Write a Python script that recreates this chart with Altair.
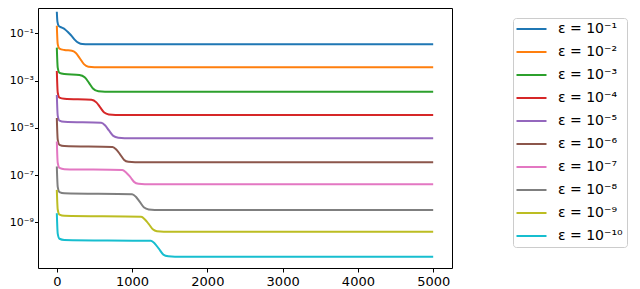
import altair as alt
import pandas as pd

# Legend labels and colours (matplotlib tab10)
labels = ["ε = 10⁻¹", "ε = 10⁻²", "ε = 10⁻³", "ε = 10⁻⁴", "ε = 10⁻⁵",
          "ε = 10⁻⁶", "ε = 10⁻⁷", "ε = 10⁻⁸", "ε = 10⁻⁹", "ε = 10⁻¹⁰"]
colors = ["#1f77b4", "#ff7f0e", "#2ca02c", "#d62728", "#9467bd",
          "#8c564b", "#e377c2", "#7f7f7f", "#bcbd22", "#17becf"]

# Axis ticks
x_ticks = [0, 1000, 2000, 3000, 4000, 5000]
y_ticks = [1e-9, 1e-7, 1e-5, 1e-3, 1e-1]
y_tick_labels = ["10⁻⁹", "10⁻⁷", "10⁻⁵", "10⁻³", "10⁻¹"]

# Series: iteration and log10 of value
eps1_x = [0, 8, 25, 60, 110, 160, 199, 240, 290, 340, 420, 5000]
eps1_log10 = [-0.08, -0.50, -0.68, -0.74, -0.83, -0.98, -1.11, -1.27, -1.40, -1.45, -1.46, -1.46]

eps2_x = [0, 12, 35, 100, 200, 250, 305, 360, 419, 500, 5000]
eps2_log10 = [-0.67, -1.45, -1.64, -1.70, -1.73, -1.82, -2.05, -2.30, -2.41, -2.43, -2.43]

eps3_x = [0, 12, 35, 100, 300, 370, 425, 480, 552, 640, 5000]
eps3_log10 = [-1.60, -2.45, -2.67, -2.72, -2.76, -2.86, -3.08, -3.33, -3.45, -3.47, -3.47]

eps4_x = [0, 12, 35, 100, 460, 525, 574, 630, 690, 780, 5000]
eps4_log10 = [-2.59, -3.50, -3.72, -3.77, -3.81, -3.92, -4.12, -4.35, -4.43, -4.45, -4.45]

eps5_x = [0, 12, 35, 100, 590, 640, 690, 750, 817, 900, 5000]
eps5_log10 = [-3.61, -4.48, -4.69, -4.74, -4.78, -4.89, -5.10, -5.34, -5.42, -5.44, -5.44]

eps6_x = [0, 12, 35, 100, 740, 790, 840, 895, 950, 1040, 5000]
eps6_log10 = [-4.58, -5.50, -5.72, -5.77, -5.81, -5.92, -6.12, -6.36, -6.44, -6.46, -6.46]

eps7_x = [0, 12, 35, 100, 870, 920, 975, 1030, 1085, 1170, 5000]
eps7_log10 = [-5.58, -6.48, -6.70, -6.75, -6.79, -6.89, -7.08, -7.30, -7.37, -7.39, -7.39]

eps8_x = [0, 12, 35, 100, 1000, 1050, 1100, 1160, 1220, 1300, 5000]
eps8_log10 = [-6.64, -7.50, -7.72, -7.77, -7.81, -7.92, -8.13, -8.38, -8.46, -8.48, -8.48]

eps9_x = [0, 12, 35, 100, 1120, 1170, 1220, 1275, 1330, 1420, 5000]
eps9_log10 = [-7.63, -8.46, -8.68, -8.73, -8.77, -8.88, -9.07, -9.30, -9.38, -9.40, -9.40]

eps10_x = [0, 12, 35, 100, 1250, 1300, 1355, 1415, 1480, 1570, 5000]
eps10_log10 = [-8.62, -9.48, -9.70, -9.75, -9.79, -9.90, -10.12, -10.37, -10.44, -10.46, -10.46]

series = [
    (eps1_x, eps1_log10), (eps2_x, eps2_log10), (eps3_x, eps3_log10),
    (eps4_x, eps4_log10), (eps5_x, eps5_log10), (eps6_x, eps6_log10),
    (eps7_x, eps7_log10), (eps8_x, eps8_log10), (eps9_x, eps9_log10),
    (eps10_x, eps10_log10),
]

rows = []
for lab, (xs, ls) in zip(labels, series):
    for xv, lv in zip(xs, ls):
        rows.append({"x": xv, "y": 10 ** lv, "label": lab})
df = pd.DataFrame(rows)

label_expr = ""
for v, t in zip(y_ticks[:-1], y_tick_labels[:-1]):
    label_expr += f"datum.value < {v * 5} ? '{t}' : "
label_expr += f"'{y_tick_labels[-1]}'"

FONT = "DejaVu Sans"

chart = alt.Chart(df).mark_line(strokeWidth=2, interpolate="monotone").encode(
    x=alt.X("x:Q",
            scale=alt.Scale(domain=[-250, 5250], nice=False, zero=False),
            axis=alt.Axis(values=x_ticks, title=None, grid=False, format="d",
                          domain=False, tickColor="black", tickSize=4,
                          labelPadding=3, labelFontSize=13, labelFont=FONT,
                          labelColor="black")),
    y=alt.Y("y:Q",
            scale=alt.Scale(type="log", domain=[10 ** -10.94, 10 ** 0.08], nice=False),
            axis=alt.Axis(values=y_ticks, labelExpr=label_expr, title=None, grid=False,
                          domain=False, tickColor="black", tickSize=3.5,
                          labelPadding=1, labelFontSize=11, labelFont=FONT,
                          labelColor="black")),
    color=alt.Color("label:N",
                    scale=alt.Scale(domain=labels, range=colors),
                    legend=alt.Legend(orient="none", legendX=475, legendY=10, title=None,
                                      symbolType="M-1.5,0L4.5,0", symbolSize=100,
                                      symbolStrokeWidth=2, labelFontSize=14,
                                      labelFont=FONT, labelColor="black",
                                      labelOffset=27, rowPadding=9, padding=4,
                                      strokeColor="#cccccc",
                                      fillColor="white", cornerRadius=3)),
).properties(
    width=414, height=260,
    padding={"left": 30, "top": 0, "right": 180, "bottom": 21},
    autosize="none",
).configure_view(stroke="black", strokeWidth=1)

chart.save("out.html", embed_options={"renderer": "svg", "actions": False})
